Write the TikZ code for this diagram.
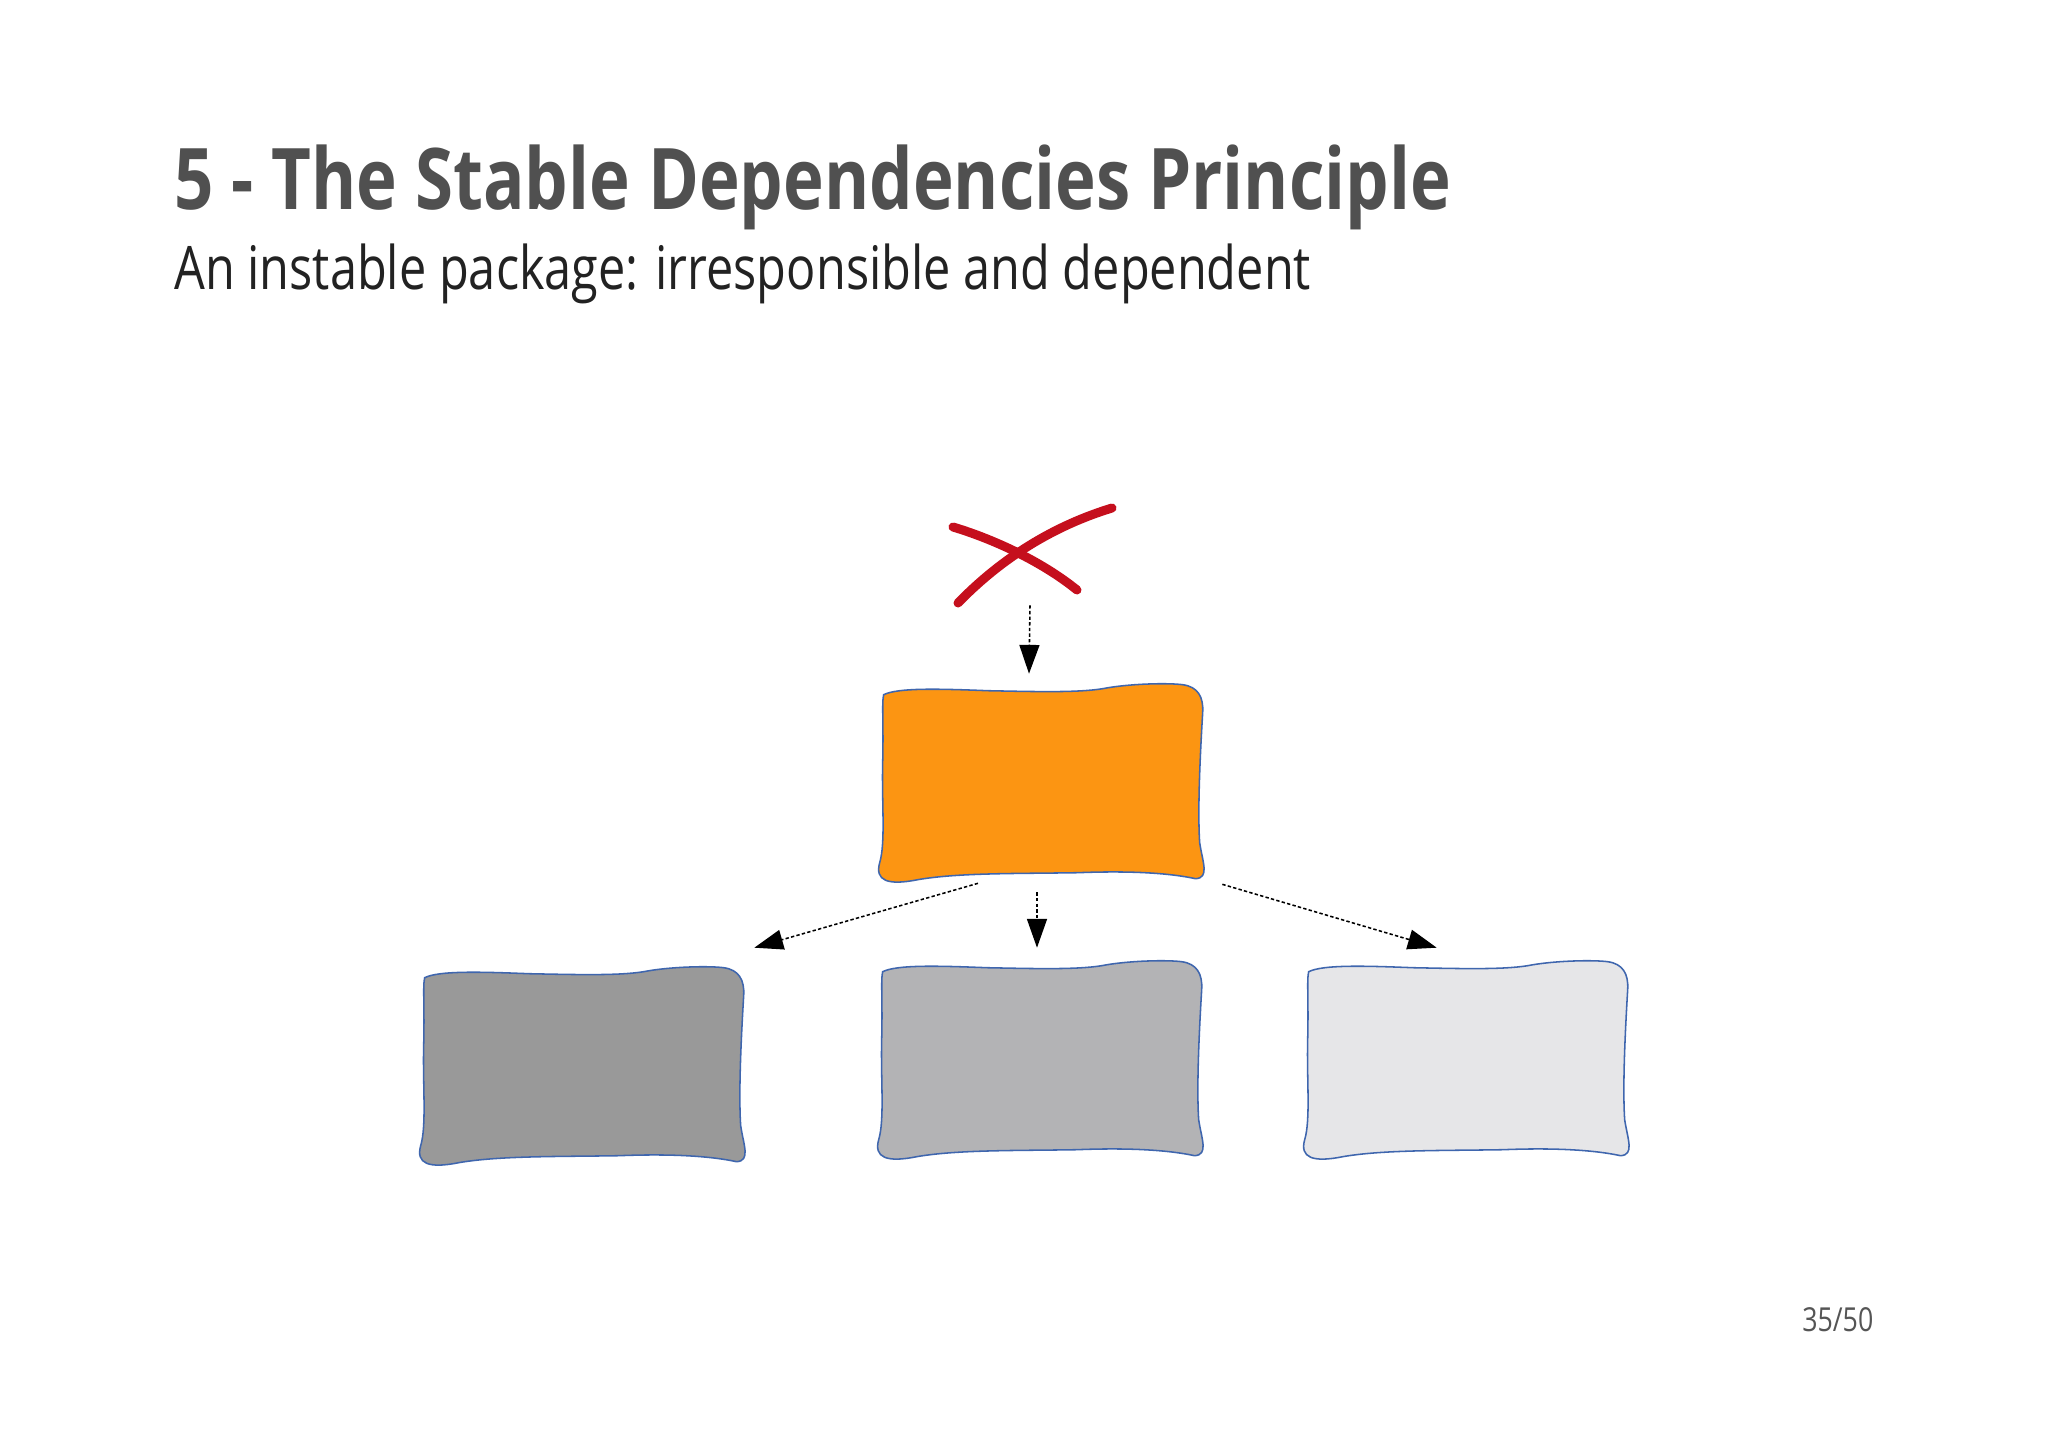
\documentclass[tikz,border=0pt]{standalone}
\usepackage{fontspec}
\setmainfont{Open Sans}[FakeStretch=0.81]
\usetikzlibrary{arrows.meta,calc}
\definecolor{TitleGrey}{HTML}{505050}
\definecolor{SubText}{HTML}{222222}
\definecolor{PageGrey}{HTML}{555555}
\definecolor{PkgOrange}{HTML}{FC9512}
\definecolor{PkgDark}{HTML}{999999}
\definecolor{PkgMid}{HTML}{B3B3B5}
\definecolor{PkgLight}{HTML}{E6E6E8}
\definecolor{EdgeBlue}{HTML}{3F66AE}
\definecolor{CrossRed}{HTML}{C50F1D}

% hand drawn outline round a package node
\newcommand{\wobblybox}[2]{%
  \begin{scope}[shift={(#1.north west)}]
    \draw[EdgeBlue, line width=1.1pt, fill=#2]
      (6,12) .. controls (20,5) and (60,6) .. (110,8)
      .. controls (160,9) and (200,10) .. (225,6)
      .. controls (250,1) and (290,0) .. (305,2)
      .. controls (320,4) and (326,14) .. (325,30)
      .. controls (322,80) and (320,130) .. (322,160)
      .. controls (325,180) and (332,195) .. (318,196)
      .. controls (290,190) and (250,188) .. (200,190)
      .. controls (140,191) and (80,190) .. (40,197)
      .. controls (10,203) and (-3,198) .. (2,180)
      .. controls (8,160) and (4,120) .. (5,80)
      .. controls (6,40) and (4,20) .. (6,12) -- cycle;
  \end{scope}}

\begin{document}
\begin{tikzpicture}[x=0.025cm, y=-0.025cm,
    pkgnode/.style={minimum width=8.15cm, minimum height=5cm, inner sep=0pt},
    depends/.style={-{Triangle[length=0.72cm,width=0.5cm]}, line width=1.1pt,
      dash pattern=on 2.4pt off 1.6pt, black}]
  \useasboundingbox[fill=white] (0,0) rectangle (2048,1449);

  \node[anchor=base west, inner sep=0pt, text=TitleGrey,
    font=\fontsize{60.5}{72}\selectfont\bfseries] (title) at (174,209)
    {5 - The Stable Dependencies Principle};
  \node[anchor=base west, inner sep=0pt, text=SubText,
    font=\fontsize{42.7}{52}\selectfont] (subtitle) at (174,289)
    {An instable package: irresponsible and dependent};
  \node[anchor=base west, inner sep=0pt, text=PageGrey,
    font=\fontsize{23.5}{28}\selectfont] (page) at (1802,1331) {35/50};

  % packages
  \node[pkgnode] (pkg) at (1041,783) {};
  \node[pkgnode] (left) at (582,1066) {};
  \node[pkgnode] (mid) at (1040,1060) {};
  \node[pkgnode] (right) at (1466,1060) {};
  \wobblybox{pkg}{PkgOrange}
  \wobblybox{left}{PkgDark}
  \wobblybox{mid}{PkgMid}
  \wobblybox{right}{PkgLight}

  % the crossed out client
  \node[minimum width=4.1cm, minimum height=2.5cm, inner sep=0pt] (cross) at (1030,555) {};
  \begin{scope}[shift={(cross.center)}, CrossRed, line width=6.4pt, line cap=round]
    \draw (-77,-28) .. controls (-40,-17) and (10,5) .. (47,35);
    \draw (-72,48) .. controls (-40,15) and (10,-25) .. (82,-47);
  \end{scope}

  \draw[depends] (cross.south) -- ($(pkg.north)+(-12,-9)$);
  \draw[depends] ($(pkg.south)+(-4,9)$) -- ($(mid.north)+(-3,-12)$);
  \draw[depends] ($(pkg.south)+(-63,0)$) -- ($(left.north east)+(9,-18)$);
  \draw[depends] ($(pkg.south east)+(18,1)$) -- ($(right.north west)+(134,-12)$);
\end{tikzpicture}
\end{document}
